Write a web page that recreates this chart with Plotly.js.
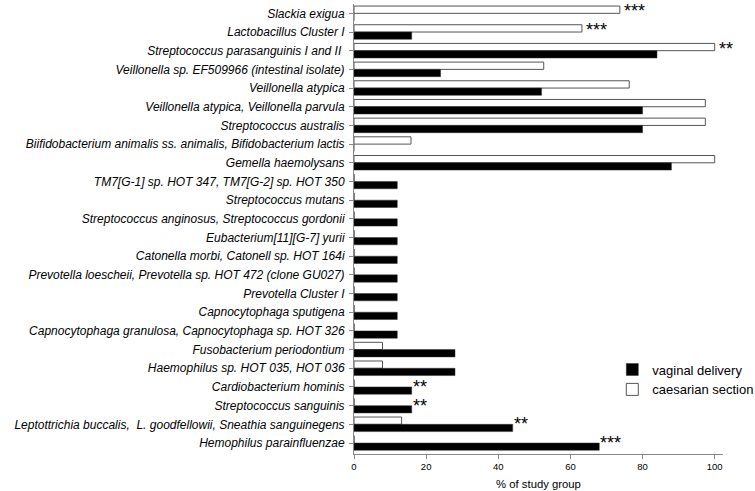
<!DOCTYPE html>
<html>
<head>
<meta charset="utf-8">
<script src="https://cdn.plot.ly/plotly-3.0.1.min.js"></script>
<style>html,body{margin:0;padding:0;background:#fff;}#chart{width:755px;height:491px;}</style>
</head>
<body>
<div id="chart"></div>
<script>
var categories = [
  "Slackia exigua",
  "Lactobacillus Cluster I",
  "Streptococcus parasanguinis I and II ",
  "Veillonella sp. EF509966 (intestinal isolate)",
  "Veillonella atypica",
  "Veillonella atypica, Veillonella parvula",
  "Streptococcus australis",
  "Biifidobacterium animalis ss. animalis, Bifidobacterium lactis",
  "Gemella haemolysans",
  "TM7[G-1] sp. HOT 347, TM7[G-2] sp. HOT 350",
  "Streptococcus mutans",
  "Streptococcus anginosus, Streptococcus gordonii",
  "Eubacterium[11][G-7] yurii",
  "Catonella morbi, Catonell sp. HOT 164i",
  "Prevotella loescheii, Prevotella sp. HOT 472 (clone GU027)",
  "Prevotella Cluster I",
  "Capnocytophaga sputigena",
  "Capnocytophaga granulosa, Capnocytophaga sp. HOT 326",
  "Fusobacterium periodontium",
  "Haemophilus sp. HOT 035, HOT 036",
  "Cardiobacterium hominis",
  "Streptococcus sanguinis",
  "Leptottrichia buccalis,  L. goodfellowii, Sneathia sanguinegens",
  "Hemophilus parainfluenzae"
];
var vaginal = [0, 16, 84, 24, 52, 80, 80, 0, 88, 12, 12, 12, 12, 12, 12, 12, 12, 12, 28, 28, 16, 16, 44, 68];
var caesarian = [73.7, 63.2, 100, 52.6, 76.3, 97.4, 97.4, 15.8, 100, 0, 0, 0, 0, 0, 0, 0, 0, 0, 7.9, 7.9, 0, 0, 13.2, 0];
var starLabels = ["***", "***", "**", "", "", "", "", "", "", "", "", "", "", "", "", "", "", "", "", "", "**", "**", "**", "***"];
var starOnSeries = ["c", "c", "c", "", "", "", "", "", "", "", "", "", "", "", "", "", "", "", "", "", "v", "v", "v", "v"];

var FONT = "Liberation Sans, Arial, sans-serif";

var traces = [
  {type: "bar", orientation: "h", name: "caesarian section", y: categories, x: caesarian,
   marker: {color: "#ffffff", line: {color: "#555555", width: 1}}},
  {type: "bar", orientation: "h", name: "vaginal delivery", y: categories, x: vaginal,
   marker: {color: "#000000", line: {color: "#333333", width: 0.5}}}
];

var annotations = [];
for (var i = 0; i < categories.length; i++) {
  if (!starLabels[i]) continue;
  var onC = starOnSeries[i] === "c";
  annotations.push({
    x: onC ? caesarian[i] : vaginal[i], y: categories[i], xref: "x", yref: "y",
    text: starLabels[i], showarrow: false, xanchor: "left", yanchor: "middle",
    height: 16, valign: "top", borderpad: 0,
    xshift: onC ? 3 : 0, yshift: onC ? 4 : 2,
    font: {family: FONT, size: 18, color: "#000"}
  });
}

var layout = {
  width: 755, height: 491,
  margin: {l: 354, r: 32, t: 4, b: 37, pad: 0, autoexpand: false},
  paper_bgcolor: "#ffffff", plot_bgcolor: "#ffffff",
  barmode: "group", bargap: 0.22, bargroupgap: 0,
  showlegend: true,
  legend: {x: 0.70, y: 0.221, xanchor: "left", yanchor: "top", traceorder: "reversed",
           font: {family: FONT, size: 13, color: "#000"},
           bgcolor: "rgba(0,0,0,0)", itemwidth: 30, tracegroupgap: 0},
  xaxis: {range: [0, 102.3], tickvals: [0, 20, 40, 60, 80, 100], ticks: "outside", ticklen: 4,
          tickcolor: "#888", showline: true, linecolor: "#888", linewidth: 1, showgrid: false, zeroline: false,
          tickfont: {family: FONT, size: 9.5, color: "#000"},
          title: {text: "% of study group", standoff: 8, font: {family: FONT, size: 11.3, color: "#000"}}},
  yaxis: {autorange: "reversed", type: "category", ticks: "outside", ticklen: 4, tickcolor: "#888",
          showline: true, linecolor: "#888", linewidth: 1, showgrid: false,
          tickfont: {family: FONT, size: 12, color: "#000", style: "italic"},
          ticklabelstandoff: 2},
  annotations: annotations
};

Plotly.newPlot("chart", traces, layout, {displayModeBar: false, staticPlot: true});
</script>
</body>
</html>
